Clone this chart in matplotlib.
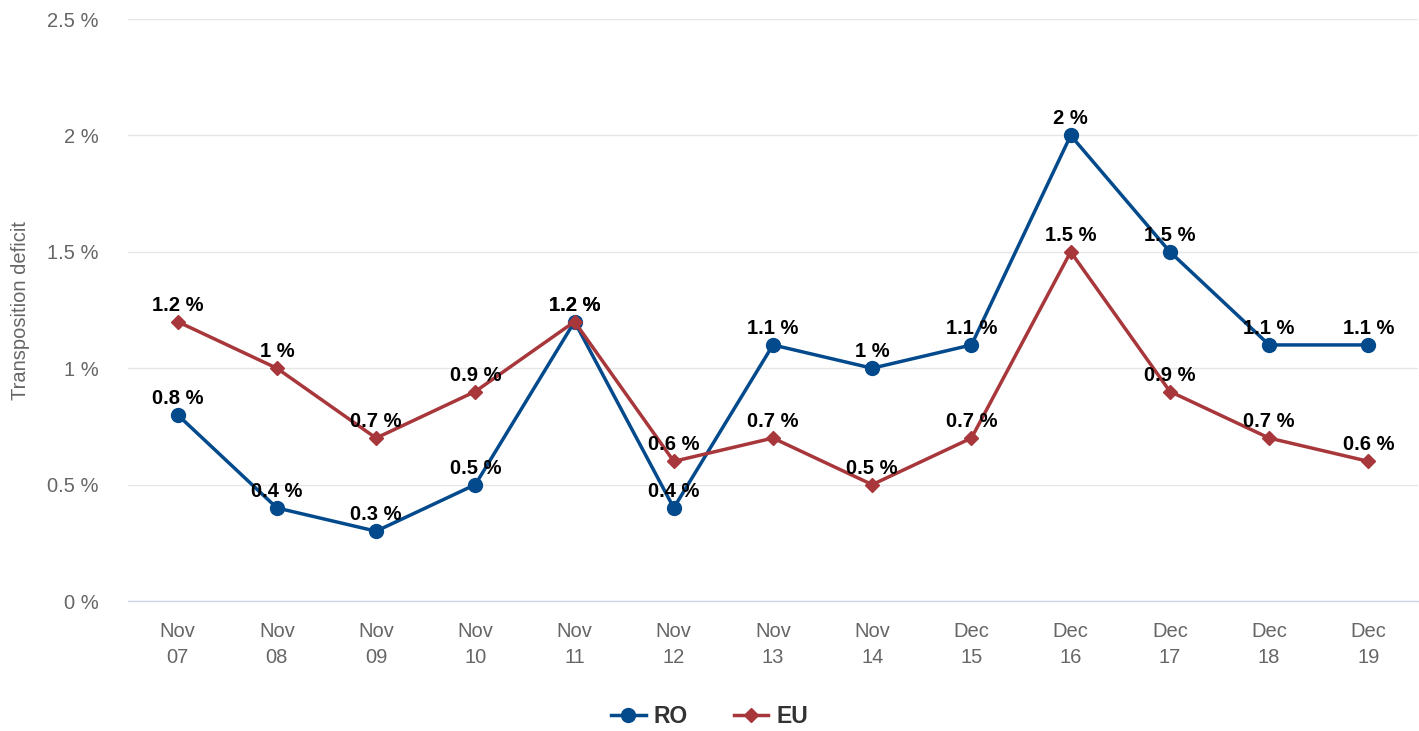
import matplotlib
matplotlib.use("Agg")
import matplotlib.pyplot as plt
from matplotlib.lines import Line2D

plt.rcParams['font.family'] = ['Liberation Sans', 'DejaVu Sans']

categories = ["Nov\n07", "Nov\n08", "Nov\n09", "Nov\n10", "Nov\n11", "Nov\n12", "Nov\n13",
              "Nov\n14", "Dec\n15", "Dec\n16", "Dec\n17", "Dec\n18", "Dec\n19"]
ro = [0.8, 0.4, 0.3, 0.5, 1.2, 0.4, 1.1, 1.0, 1.1, 2.0, 1.5, 1.1, 1.1]
eu = [1.2, 1.0, 0.7, 0.9, 1.2, 0.6, 0.7, 0.5, 0.7, 1.5, 0.9, 0.7, 0.6]
yticks = [0, 0.5, 1, 1.5, 2, 2.5]
ytick_labels = ["0 %", "0.5 %", "1 %", "1.5 %", "2 %", "2.5 %"]

ro_color = "#034a8c"
eu_color = "#a8373b"

fig = plt.figure(figsize=(14.19, 7.31), dpi=100)
ax = fig.add_axes([0.0902, 0.1778, 0.9091, 0.7962])

x = list(range(len(categories)))
ax.plot(x, ro, color=ro_color, lw=2.5, marker='o', ms=10, zorder=3, label="RO")
ax.plot(x, eu, color=eu_color, lw=2.5, marker='D', ms=7, zorder=4, label="EU")

def fmt(v):
    s = f"{v:g}"
    return f"{s} %"

for xi, v in zip(x, ro):
    ax.annotate(fmt(v), (xi, v), xytext=(0, 5), textcoords='offset points',
                ha='center', va='bottom', fontsize=14.5, fontweight='bold', color='black', zorder=6)
for xi, v in zip(x, eu):
    ax.annotate(fmt(v), (xi, v), xytext=(0, 5), textcoords='offset points',
                ha='center', va='bottom', fontsize=14.5, fontweight='bold', color='black', zorder=6)

ax.set_xlim(-0.5, len(categories) - 0.5)
ax.set_ylim(0, 2.5)
ax.set_yticks(yticks)
ax.set_yticklabels(ytick_labels)
ax.set_xticks(x)
ax.set_xticklabels(categories, linespacing=1.5)
ax.tick_params(axis='y', length=0, pad=21, labelsize=14.5, labelcolor='#666666')
ax.tick_params(axis='x', length=0, pad=15, labelsize=14.5, labelcolor='#666666')
ax.grid(axis='y', color='#e6e6e6', lw=1)
ax.set_axisbelow(True)
for s in ['top', 'right', 'left']:
    ax.spines[s].set_visible(False)
ax.spines['bottom'].set_color('#ccd6eb')
ax.spines['bottom'].set_linewidth(1)
ax.set_ylabel("Transposition deficit", fontsize=14.5, color='#666666')
ax.yaxis.set_label_coords(-0.076, 0.5)

handles = [Line2D([0], [0], color=ro_color, lw=2.5, marker='o', ms=10),
           Line2D([0], [0], color=eu_color, lw=2.5, marker='D', ms=7)]
leg = fig.legend(handles, ["RO", "EU"], loc='center', bbox_to_anchor=(0.5, 0.02),
                 ncol=2, frameon=False, handlelength=1.5, handletextpad=0.35,
                 columnspacing=2.0, prop={'weight': 'bold', 'size': 16.5})
for t in leg.get_texts():
    t.set_color('#333333')

fig.savefig("out.png", dpi=100)
